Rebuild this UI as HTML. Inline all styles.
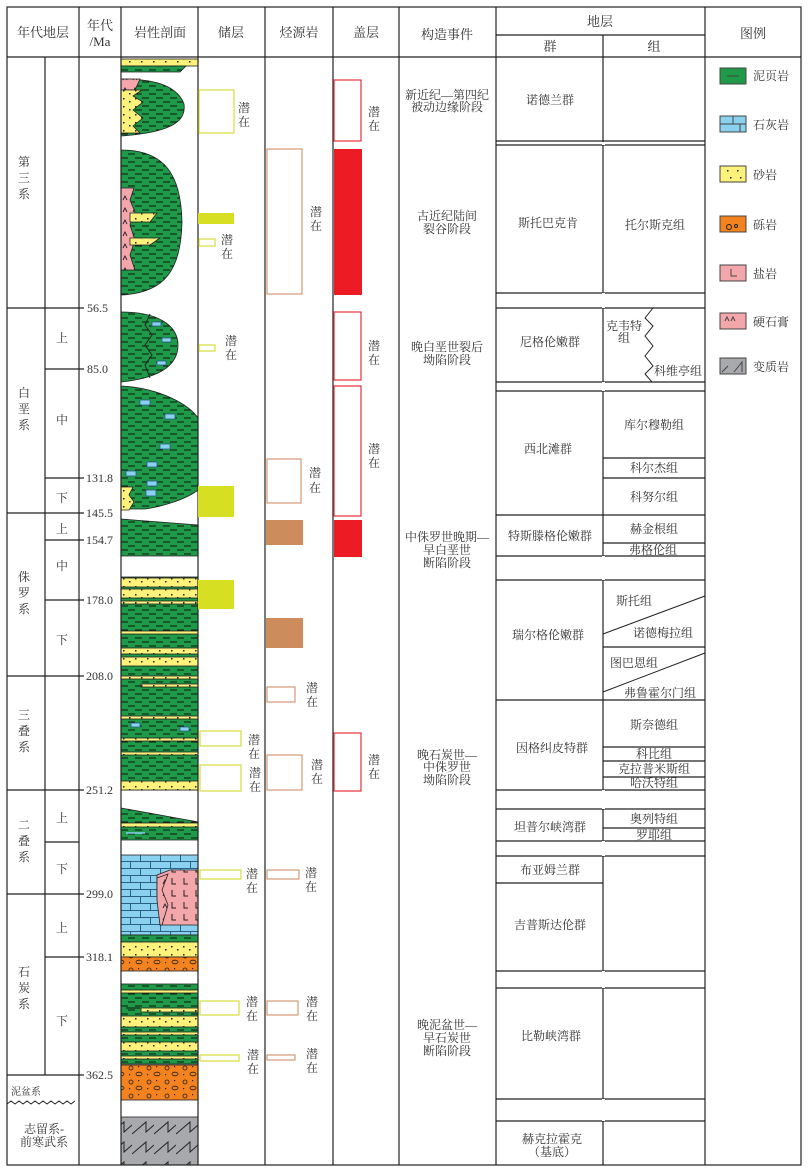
<!DOCTYPE html>
<html><head><meta charset="utf-8"><style>
html,body{margin:0;padding:0;background:#fff}
svg{display:block}
text{font-family:"Liberation Serif","Noto Serif CJK SC","Noto Sans CJK SC",serif;font-size:12px;fill:#333}
</style></head><body>
<svg width="808" height="1172" viewBox="0 0 808 1172" xmlns="http://www.w3.org/2000/svg">
<defs>
<pattern id="sh" width="14" height="8" patternUnits="userSpaceOnUse"><rect width="14" height="8" fill="#1e9a48"/><line x1="2" y1="2" x2="9" y2="2" stroke="#111" stroke-width="1"/><line x1="9" y1="6" x2="14" y2="6" stroke="#111" stroke-width="1"/><line x1="0" y1="6" x2="2" y2="6" stroke="#111" stroke-width="1"/></pattern>
<pattern id="sa" width="12" height="8" patternUnits="userSpaceOnUse"><rect width="12" height="8" fill="#fff27a"/><rect x="3" y="2" width="1.5" height="1.5" fill="#222"/><rect x="9" y="5" width="1.5" height="1.5" fill="#222"/></pattern>
<pattern id="li" width="20" height="14" patternUnits="userSpaceOnUse"><rect width="20" height="14" fill="#8ad0ef"/><path d="M0 0.5H20M0 7.5H20M0.5 0V7M10.5 7V14" stroke="#2a5f86" stroke-width="1" fill="none"/></pattern>
<pattern id="co" width="18" height="14" patternUnits="userSpaceOnUse"><rect width="18" height="14" fill="#f4821f"/><circle cx="5" cy="4" r="2" fill="none" stroke="#222" stroke-width=".8"/><ellipse cx="13" cy="10" rx="3" ry="1.8" fill="none" stroke="#222" stroke-width=".8"/><rect x="12" y="2" width="1.2" height="1.2" fill="#222"/><rect x="3" y="10" width="1.2" height="1.2" fill="#222"/></pattern>
<pattern id="sl" width="12" height="12" patternUnits="userSpaceOnUse"><rect width="12" height="12" fill="#f4a7ab"/><path d="M4 2V8H8" stroke="#222" fill="none" stroke-width="1"/></pattern>
<pattern id="gy" width="10" height="12" patternUnits="userSpaceOnUse"><rect width="10" height="12" fill="#f4a7ab"/><path d="M3 8L5 4L7 8" stroke="#222" fill="none" stroke-width=".9"/></pattern>
<pattern id="me" width="22" height="20" patternUnits="userSpaceOnUse"><rect width="22" height="20" fill="#a7a9ac"/><path d="M0 14L14 2V12L22 5" stroke="#222" fill="none" stroke-width="1"/></pattern>
</defs>

<!-- lithology -->
<g stroke="#222" stroke-width="0.8">
<rect x="121" y="59" width="77" height="7" fill="url(#sa)"/>
<path d="M121 66H186L180 72H121Z" fill="url(#sh)"/>
<path d="M121 79C160 79 178 88 184 104C186 118 178 132 121 136Z" fill="url(#sh)"/>
<path d="M121 79H140L135 90H121Z" fill="url(#gy)"/>
<path d="M121 90H142L133 96L143 102L133 110L143 118L133 126L140 133H121Z" fill="url(#sa)"/>
<path d="M121 150C165 150 181 175 182 222C181 270 165 293 121 295Z" fill="url(#sh)"/>
<path d="M121 188H134L130 200L135 212L130 225L135 240L130 255L135 270H121Z" fill="url(#gy)"/>
<path d="M130 213H157L150 222H130Z" fill="url(#sa)"/>
<path d="M130 238H160L150 245H130Z" fill="url(#sa)"/>
<path d="M121 312C165 312 178 330 178 345C178 365 160 378 121 382Z" fill="url(#sh)"/>
<path d="M150 314L145 325L152 335L145 345L152 355L145 365L150 378" fill="none" stroke-width="1"/>
<path d="M121 386C160 388 190 405 198 418V490C185 500 160 507 145 509H121Z" fill="url(#sh)"/>
<path d="M121 487H133L129 495L134 502L129 510H121Z" fill="url(#sa)"/>
<path d="M121 519L198 525V556H121Z" fill="url(#sh)"/>
<rect x="121" y="577" width="77" height="213" fill="url(#sh)"/>
<rect x="121" y="578" width="77" height="9" fill="url(#sa)"/>
<rect x="121" y="589" width="77" height="9" fill="url(#sa)"/>
<rect x="121" y="601" width="77" height="3" fill="url(#sa)"/>
<rect x="121" y="631" width="77" height="3" fill="url(#sa)"/>
<rect x="121" y="648" width="77" height="6" fill="url(#sa)"/>
<rect x="121" y="657" width="77" height="9" fill="url(#sa)"/>
<rect x="121" y="676" width="77" height="3" fill="url(#sa)"/>
<rect x="141" y="684" width="57" height="3" fill="url(#sa)"/>
<rect x="121" y="716" width="77" height="3" fill="url(#sa)"/>
<rect x="121" y="738" width="77" height="3" fill="url(#sa)"/>
<rect x="121" y="752" width="77" height="3" fill="url(#sa)"/>
<rect x="121" y="781" width="77" height="9" fill="url(#sa)"/>
<path d="M121 808L160 815L198 822V840H121Z" fill="url(#sh)"/>
<rect x="121" y="823" width="77" height="4" fill="url(#sa)"/>
<rect x="121" y="855" width="77" height="80" fill="url(#li)"/>
<path d="M157 875L170 870L198 870V925H160L165 910L157 895Z" fill="url(#sl)"/>
<path d="M157 878L168 874L162 890L168 905L162 925H160L157 900Z" fill="url(#gy)"/>
<rect x="121" y="935" width="77" height="7" fill="url(#sh)"/>
<rect x="121" y="942" width="77" height="15" fill="url(#sa)"/>
<rect x="121" y="957" width="77" height="14" fill="url(#co)"/>
<rect x="121" y="984" width="77" height="80" fill="url(#sh)"/>
<rect x="121" y="990" width="77" height="3" fill="url(#sa)"/>
<rect x="141" y="1008" width="57" height="4" fill="url(#sa)"/>
<rect x="121" y="1016" width="77" height="11" fill="url(#sa)"/>
<rect x="121" y="1032" width="77" height="3" fill="url(#sa)"/>
<rect x="121" y="1042" width="77" height="9" fill="url(#sa)"/>
<rect x="121" y="1056" width="77" height="3" fill="url(#sa)"/>
<rect x="121" y="1065" width="77" height="35" fill="url(#co)"/>
<rect x="121" y="1117" width="77" height="48" fill="url(#me)"/>
</g>
<g fill="#8ad0ef" stroke="#2a5f86" stroke-width="0.8">
<rect x="152" y="322" width="9" height="4"/><rect x="162" y="338" width="9" height="4"/><rect x="157" y="361" width="9" height="4"/>
<rect x="140" y="400" width="10" height="5"/><rect x="165" y="414" width="10" height="5"/><rect x="160" y="444" width="10" height="5"/>
<rect x="147" y="462" width="10" height="5"/><rect x="126" y="471" width="10" height="5"/><rect x="147" y="481" width="10" height="5"/><rect x="146" y="490" width="10" height="6"/>
<rect x="131" y="723" width="9" height="4"/><rect x="180" y="727" width="9" height="4"/>
</g>
<line x1="126" y1="833" x2="145" y2="833" stroke="#8ad0ef" stroke-width="1.5"/>
<line x1="126" y1="1008" x2="140" y2="1008" stroke="#111" stroke-width="1"/>

<!-- grid -->
<g stroke="#222" stroke-width="1.2" fill="none">
<rect x="7" y="7" width="794" height="1158"/>
<line x1="7" y1="57" x2="801" y2="57"/>
<line x1="79" y1="7" x2="79" y2="1165"/>
<line x1="121" y1="7" x2="121" y2="1165"/>
<line x1="198" y1="7" x2="198" y2="1165"/>
<line x1="265" y1="7" x2="265" y2="1165"/>
<line x1="333" y1="7" x2="333" y2="1165"/>
<line x1="399" y1="7" x2="399" y2="1165"/>
<line x1="496" y1="7" x2="496" y2="1165"/>
<line x1="705" y1="7" x2="705" y2="1165"/>
<line x1="496" y1="35" x2="705" y2="35"/>
<line x1="603" y1="35" x2="603" y2="1165"/>
<line x1="45" y1="57" x2="45" y2="1075"/>
<path d="M7 308H84M45 369H84M45 478H84M7 513H84M45 540H84M45 600H84M7 676H84M7 790H84M45 842H79M7 894H84M45 957H84M7 1075H84"/>
<path d="M7 1104l4-3 4 3 4-3 4 3 4-3 4 3 4-3 4 3 4-3 4 3 4-3 4 3 4-3 4 3 4-3 4 3 4-3" stroke-width="1"/>
<path d="M496 141H705M496 145H705M496 293H705M496 308H705M496 382H705M496 391H705M603 458H705M603 478H705M496 515H705M603 543H705M496 556H705M496 580H705M603 647H705M496 700H705M603 747H705M603 761H705M603 777H705M496 790H705M496 809H705M603 828H705M496 841H705M496 856H705M496 883H603M496 971H705M496 988H705M496 1099H705M496 1121H705"/>
<path d="M603 634L705 596M603 692L705 653" stroke-width="1"/>
<path d="M653 308L645 318L653 326L645 336L653 346L645 356L653 366L645 374L652 382" stroke-width="1"/>
</g>
<rect x="602" y="293" width="3" height="15" fill="#fff"/>
<rect x="602" y="382" width="3" height="9" fill="#fff"/>
<rect x="602" y="556" width="3" height="24" fill="#fff"/>
<rect x="602" y="790" width="3" height="19" fill="#fff"/>
<rect x="602" y="841" width="3" height="15" fill="#fff"/>
<rect x="602" y="971" width="3" height="17" fill="#fff"/>
<rect x="602" y="1099" width="3" height="22" fill="#fff"/>
<rect x="602" y="142" width="3" height="3" fill="#fff"/>

<!-- headers -->
<g>
<text x="43" y="37" text-anchor="middle" style="font-size:13px">年代地层</text>
<text x="100" y="30" text-anchor="middle" style="font-size:13px">年代</text>
<text x="100" y="46" text-anchor="middle" style="font-size:13px">/Ma</text>
<text x="160" y="37" text-anchor="middle" style="font-size:13px">岩性剖面</text>
<text x="231" y="37" text-anchor="middle" style="font-size:13px">储层</text>
<text x="299" y="37" text-anchor="middle" style="font-size:13px">烃源岩</text>
<text x="366" y="37" text-anchor="middle" style="font-size:13px">盖层</text>
<text x="447" y="39" text-anchor="middle" style="font-size:13px">构造事件</text>
<text x="600" y="26" text-anchor="middle" style="font-size:13px">地层</text>
<text x="550" y="51" text-anchor="middle" style="font-size:13px">群</text>
<text x="654" y="51" text-anchor="middle" style="font-size:13px">组</text>
<text x="753" y="38" text-anchor="middle" style="font-size:13px">图例</text>
</g>

<g text-anchor="middle">
<text x="24" y="166">第</text><text x="24" y="182">三</text><text x="24" y="198">系</text>
<text x="62" y="342">上</text><text x="62" y="424">中</text><text x="62" y="502">下</text>
<text x="24" y="397">白</text><text x="24" y="413">垩</text><text x="24" y="429">系</text>
<text x="62" y="533">上</text><text x="62" y="570">中</text><text x="62" y="644">下</text>
<text x="24" y="581">侏</text><text x="24" y="597">罗</text><text x="24" y="613">系</text>
<text x="24" y="719">三</text><text x="24" y="735">叠</text><text x="24" y="751">系</text>
<text x="62" y="822">上</text><text x="62" y="873">下</text>
<text x="24" y="829">二</text><text x="24" y="845">叠</text><text x="24" y="861">系</text>
<text x="62" y="932">上</text><text x="62" y="1025">下</text>
<text x="24" y="976">石</text><text x="24" y="992">炭</text><text x="24" y="1008">系</text>
<text x="26" y="1095" style="font-size:10px">泥盆系</text>
<text x="44" y="1133">志留系-</text><text x="44" y="1146">前寒武系</text>
</g>
<g>
<text x="87" y="312">56.5</text><text x="87" y="373">85.0</text><text x="86" y="482">131.8</text><text x="86" y="517">145.5</text>
<text x="86" y="544">154.7</text><text x="86" y="604">178.0</text><text x="86" y="680">208.0</text><text x="86" y="794">251.2</text>
<text x="86" y="898">299.0</text><text x="86" y="961">318.1</text><text x="86" y="1079">362.5</text>
</g>

<g fill="none" stroke="#d6dc3c" stroke-width="1.2">
<rect x="199" y="90" width="35" height="43"/><rect x="199" y="239" width="16" height="7"/><rect x="199" y="345" width="16" height="6"/>
<rect x="200" y="731" width="41" height="15"/><rect x="200" y="765" width="41" height="26"/><rect x="200" y="870" width="41" height="9"/>
<rect x="200" y="1001" width="39" height="14"/><rect x="200" y="1055" width="39" height="6"/>
</g>
<g fill="#d7df23"><rect x="198" y="213" width="36" height="11"/><rect x="198" y="486" width="36" height="31"/><rect x="198" y="580" width="36" height="29"/></g>
<g fill="none" stroke="#d49a74" stroke-width="1.2">
<rect x="267" y="149" width="35" height="145"/><rect x="267" y="459" width="34" height="44"/><rect x="267" y="687" width="28" height="15"/>
<rect x="267" y="755" width="35" height="35"/><rect x="267" y="870" width="32" height="9"/><rect x="267" y="1001" width="31" height="14"/><rect x="267" y="1055" width="28" height="5"/>
</g>
<g fill="#cc8c5c"><rect x="266" y="520" width="37" height="25"/><rect x="266" y="618" width="37" height="30"/></g>
<g fill="none" stroke="#e8303a" stroke-width="1.2">
<rect x="334" y="80" width="27" height="61"/><rect x="334" y="312" width="27" height="68"/><rect x="334" y="386" width="27" height="130"/><rect x="334" y="733" width="27" height="58"/>
</g>
<g fill="#ed1c24"><rect x="334" y="149" width="28" height="146"/><rect x="334" y="520" width="28" height="37"/></g>

<g>
<text x="238" y="112">潜</text><text x="238" y="126">在</text>
<text x="221" y="244">潜</text><text x="221" y="258">在</text>
<text x="225" y="345">潜</text><text x="225" y="359">在</text>
<text x="248" y="744">潜</text><text x="248" y="758">在</text>
<text x="249" y="777">潜</text><text x="249" y="791">在</text>
<text x="246" y="878">潜</text><text x="246" y="892">在</text>
<text x="246" y="1006">潜</text><text x="246" y="1020">在</text>
<text x="247" y="1059">潜</text><text x="247" y="1073">在</text>
<text x="310" y="216">潜</text><text x="310" y="230">在</text>
<text x="309" y="477">潜</text><text x="309" y="492">在</text>
<text x="306" y="692">潜</text><text x="306" y="706">在</text>
<text x="311" y="769">潜</text><text x="311" y="783">在</text>
<text x="305" y="877">潜</text><text x="305" y="891">在</text>
<text x="306" y="1006">潜</text><text x="306" y="1020">在</text>
<text x="306" y="1058">潜</text><text x="306" y="1072">在</text>
<text x="368" y="116">潜</text><text x="368" y="130">在</text>
<text x="368" y="350">潜</text><text x="368" y="364">在</text>
<text x="368" y="453">潜</text><text x="368" y="467">在</text>
<text x="368" y="764">潜</text><text x="368" y="778">在</text>
</g>

<g text-anchor="middle">
<text x="447" y="99">新近纪—第四纪</text><text x="447" y="111">被动边缘阶段</text>
<text x="447" y="220">古近纪陆间</text><text x="447" y="233">裂谷阶段</text>
<text x="447" y="351">晚白垩世裂后</text><text x="447" y="364">坳陷阶段</text>
<text x="447" y="541">中侏罗世晚期—</text><text x="447" y="554">早白垩世</text><text x="447" y="567">断陷阶段</text>
<text x="447" y="759">晚石炭世—</text><text x="447" y="771">中侏罗世</text><text x="447" y="784">坳陷阶段</text>
<text x="447" y="1029">晚泥盆世—</text><text x="447" y="1042">早石炭世</text><text x="447" y="1055">断陷阶段</text>
</g>
<g text-anchor="middle">
<text x="550" y="104">诺德兰群</text>
<text x="548" y="227">斯托巴克肯</text><text x="655" y="229">托尔斯克组</text>
<text x="550" y="346">尼格伦嫩群</text>
<text x="624" y="330">克韦特</text><text x="624" y="342">组</text><text x="678" y="375">科维亭组</text>
<text x="548" y="453">西北滩群</text>
<text x="654" y="429">库尔穆勒组</text><text x="654" y="472">科尔杰组</text><text x="654" y="501">科努尔组</text>
<text x="550" y="540">特斯滕格伦嫩群</text>
<text x="654" y="533">赫金根组</text><text x="653" y="554">弗格伦组</text>
<text x="548" y="639">瑞尔格伦嫩群</text>
<text x="634" y="605">斯托组</text><text x="663" y="637">诺德梅拉组</text>
<text x="634" y="667">图巴恩组</text><text x="660" y="697">弗鲁霍尔门组</text>
<text x="552" y="752">因格纠皮特群</text>
<text x="654" y="729">斯奈德组</text><text x="654" y="758">科比组</text><text x="654" y="773">克拉普米斯组</text><text x="654" y="787">哈沃特组</text>
<text x="550" y="831">坦普尔峡湾群</text>
<text x="654" y="823">奥列特组</text><text x="654" y="839">罗耶组</text>
<text x="550" y="874">布亚姆兰群</text>
<text x="550" y="929">吉普斯达伦群</text>
<text x="551" y="1040">比勒峡湾群</text>
<text x="552" y="1143">赫克拉霍克</text><text x="552" y="1156">（基底）</text>
</g>

<g stroke="#444" stroke-width="1">
<rect x="720" y="68" width="26" height="16" fill="#1e9a48"/>
<rect x="720" y="116" width="26" height="16" fill="#8ad0ef"/>
<rect x="720" y="166" width="26" height="16" fill="#fff27a"/>
<rect x="720" y="216" width="26" height="16" fill="#f4821f"/>
<rect x="720" y="265" width="26" height="16" fill="#f4a7ab"/>
<rect x="720" y="313" width="26" height="16" fill="#f4a7ab"/>
<rect x="720" y="358" width="26" height="16" fill="#a7a9ac"/>
<path d="M727 76H739M720 124H746M733 116V124M740 124V132M725 321L727 317L729 321M731 321L733 317L735 321M722 372L728 366M734 372L742 362V372" fill="none"/>
<path d="M731 269V276H737" fill="none"/>
</g>
<g fill="#222"><rect x="727" y="170" width="1.5" height="1.5"/><rect x="737" y="170" width="1.5" height="1.5"/><rect x="730" y="177" width="1.5" height="1.5"/><rect x="740" y="177" width="1.5" height="1.5"/></g>
<circle cx="729" cy="227" r="2.5" fill="none" stroke="#222"/><circle cx="736" cy="226" r="1.5" fill="none" stroke="#222"/>
<g style="font-size:13px">
<text x="753" y="80">泥页岩</text><text x="753" y="129">石灰岩</text><text x="753" y="179">砂岩</text><text x="753" y="229">砾岩</text>
<text x="753" y="278">盐岩</text><text x="753" y="326">硬石膏</text><text x="753" y="371">变质岩</text>
</g>
</svg>
</body></html>
